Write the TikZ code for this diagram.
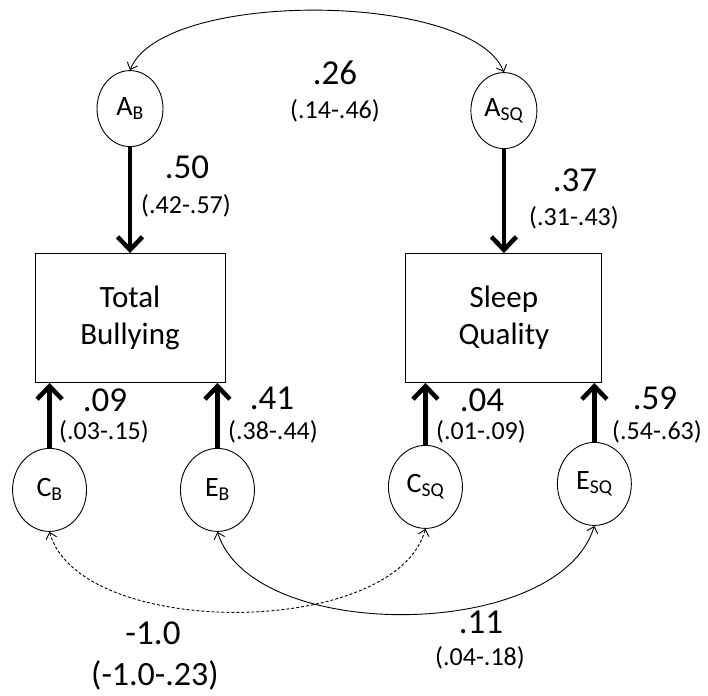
\documentclass[tikz,border=0pt]{standalone}
\usepackage{fontspec}
\setmainfont{Carlito}
\usetikzlibrary{arrows.meta, positioning, shapes.geometric}

\begin{document}
\begin{tikzpicture}[
  x=1pt, y=-1pt,
  every node/.style={font=\fontsize{28}{34}\selectfont},
  latent/.style={draw, ellipse, line width=0.9pt, inner sep=0pt},
  topfactor/.style={latent, minimum width=66pt, minimum height=76pt},
  lowfactor/.style={latent, minimum width=74pt, minimum height=83pt},
  measure/.style={draw, line width=0.9pt, minimum height=129pt, align=center, font=\fontsize{31}{37}\selectfont},
  loading/.style={line width=4.5pt, -{Straight Barb[length=13pt, width=25pt]}},
  covar/.style={line width=0.9pt, {Straight Barb[length=6pt, width=11pt]}-{Straight Barb[length=6pt, width=11pt]}},
  coef/.style={font=\fontsize{35}{40}\selectfont, inner sep=0pt},
  ci/.style={font=\fontsize{26}{30}\selectfont, inner sep=0pt}
]
\useasboundingbox (0,0) rectangle (708,695);

% observed measures
\node[measure, minimum width=190pt] (TB) at (130,318) {Total\\Bullying};
\node[measure, minimum width=196pt, right=180pt of TB] (SQ) {Sleep\\Quality};

% additive genetic factors
\node[topfactor, above=106pt of TB] (AB) {A\textsubscript{B}};
\node[topfactor, above=104pt of SQ] (ASQ) {A\textsubscript{SQ}};

% shared and unique environment
\node[lowfactor, below=65pt of TB.south west, xshift=15pt] (CB) {C\textsubscript{B}};
\node[lowfactor, below=65pt of TB.south east, xshift=-8pt] (EB) {E\textsubscript{B}};
\node[lowfactor, below=62pt of SQ.south west, xshift=20pt] (CSQ) {C\textsubscript{SQ}};
\node[lowfactor, below=59pt of SQ.south east, xshift=-8pt] (ESQ) {E\textsubscript{SQ}};

% loadings
\draw[loading] (AB) -- (TB);
\draw[loading] (ASQ) -- (SQ);
\draw[loading] (CB.north) -- (CB.north |- TB.south);
\draw[loading] (EB.north) -- (EB.north |- TB.south);
\draw[loading] (CSQ.north) -- (CSQ.north |- SQ.south);
\draw[loading] (ESQ.north) -- (ESQ.north |- SQ.south);

% correlations
\draw[covar] (AB.north) .. controls +(32,-81) and +(-32,-81) .. (ASQ.north);
\draw[covar, dash pattern=on 3pt off 2pt] (CB.south) .. controls +(30,108) and +(-30,110) .. (CSQ.south);
\draw[covar] (EB.south) .. controls +(35,112) and +(-35,116) .. (ESQ.south);

% estimates
\node[coef] (rA) at (335,73) {.26};
\node[ci] (rAci) at (335,111) {(.14-.46)};
\node[coef] (lAB) at (187,167) {.50};
\node[ci] (lABci) at (186,206) {(.42-.57)};
\node[coef] (lASQ) at (575,180) {.37};
\node[ci] (lASQci) at (574,218) {(.31-.43)};
\node[coef] (lCB) at (105,400) {.09};
\node[ci] (lCBci) at (104,432) {(.03-.15)};
\node[coef] (lEB) at (272,398) {.41};
\node[ci] (lEBci) at (273,432) {(.38-.44)};
\node[coef] (lCSQ) at (482,400) {.04};
\node[ci] (lCSQci) at (481,432) {(.01-.09)};
\node[coef] (lESQ) at (655,398) {.59};
\node[ci] (lESQci) at (657,432) {(.54-.63)};
\node[coef] (rC) at (153,633) {-1.0};
\node[coef, font=\fontsize{34}{40}\selectfont] (rCci) at (155,675) {(-1.0-.23)};
\node[coef] (rE) at (481,622) {.11};
\node[ci] (rEci) at (480,658) {(.04-.18)};

\end{tikzpicture}
\end{document}
